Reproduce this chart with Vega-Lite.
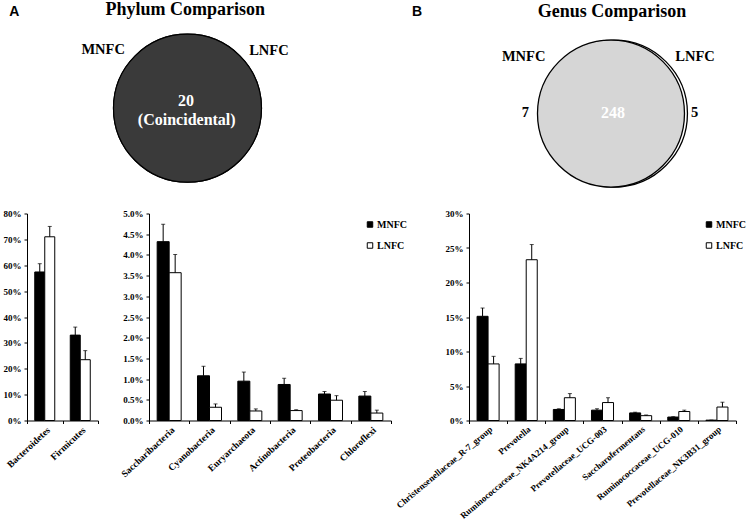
{
  "$schema": "https://vega.github.io/schema/vega-lite/v6.json",
  "padding": {"left": 3, "top": 0, "right": 0, "bottom": 0},
  "background": "white",
  "config": {
    "view": {"stroke": null},
    "axis": {"grid": false, "domainColor": "black", "tickColor": "black", "tickSize": 3, "labelColor": "black", "labelFont": "Liberation Serif", "labelFontWeight": "bold", "labelFontSize": 9, "labelOverlap": false}
  },
  "datasets": {
    "phylumMain": [
      {"taxon": "Bacteroidetes", "group": "MNFC", "value": 57.4, "upper": 60.6},
      {"taxon": "Bacteroidetes", "group": "LNFC", "value": 71.0, "upper": 75.0},
      {"taxon": "Firmicutes", "group": "MNFC", "value": 33.0, "upper": 36.1},
      {"taxon": "Firmicutes", "group": "LNFC", "value": 23.5, "upper": 27.0}
    ],
    "phylumMinor": [
      {"taxon": "Saccharibacteria", "group": "MNFC", "value": 4.32, "upper": 4.74},
      {"taxon": "Saccharibacteria", "group": "LNFC", "value": 3.57, "upper": 4.01},
      {"taxon": "Cyanobacteria", "group": "MNFC", "value": 1.08, "upper": 1.31},
      {"taxon": "Cyanobacteria", "group": "LNFC", "value": 0.32, "upper": 0.40},
      {"taxon": "Euryarchaeota", "group": "MNFC", "value": 0.95, "upper": 1.17},
      {"taxon": "Euryarchaeota", "group": "LNFC", "value": 0.23, "upper": 0.28},
      {"taxon": "Actinobacteria", "group": "MNFC", "value": 0.87, "upper": 1.02},
      {"taxon": "Actinobacteria", "group": "LNFC", "value": 0.24, "upper": 0.26},
      {"taxon": "Proteobacteria", "group": "MNFC", "value": 0.64, "upper": 0.70},
      {"taxon": "Proteobacteria", "group": "LNFC", "value": 0.49, "upper": 0.60},
      {"taxon": "Chloroflexi", "group": "MNFC", "value": 0.59, "upper": 0.70},
      {"taxon": "Chloroflexi", "group": "LNFC", "value": 0.18, "upper": 0.25}
    ],
    "genus": [
      {"taxon": "Christensenellaceae_R-7_group", "group": "MNFC", "value": 15.1, "upper": 16.3},
      {"taxon": "Christensenellaceae_R-7_group", "group": "LNFC", "value": 8.2, "upper": 9.3},
      {"taxon": "Prevotella", "group": "MNFC", "value": 8.2, "upper": 9.0},
      {"taxon": "Prevotella", "group": "LNFC", "value": 23.3, "upper": 25.5},
      {"taxon": "Ruminococcaceae_NK4A214_group", "group": "MNFC", "value": 1.6, "upper": 1.7},
      {"taxon": "Ruminococcaceae_NK4A214_group", "group": "LNFC", "value": 3.3, "upper": 3.9},
      {"taxon": "Prevotellaceae_UCG-003", "group": "MNFC", "value": 1.5, "upper": 1.7},
      {"taxon": "Prevotellaceae_UCG-003", "group": "LNFC", "value": 2.6, "upper": 3.3},
      {"taxon": "Saccharofermentans", "group": "MNFC", "value": 1.1, "upper": 1.2},
      {"taxon": "Saccharofermentans", "group": "LNFC", "value": 0.7, "upper": 0.8},
      {"taxon": "Ruminococcaceae_UCG-010", "group": "MNFC", "value": 0.5, "upper": 0.55},
      {"taxon": "Ruminococcaceae_UCG-010", "group": "LNFC", "value": 1.3, "upper": 1.5},
      {"taxon": "Prevotellaceae_NK3B31_group", "group": "MNFC", "value": 0.05, "upper": 0.06},
      {"taxon": "Prevotellaceae_NK3B31_group", "group": "LNFC", "value": 1.95, "upper": 2.65}
    ],
    "vennA_sets": [
      {"set": "LNFC", "x": 0, "y": -0.03},
      {"set": "MNFC", "x": 0, "y": -0.03}
    ],
    "vennA_text": [
      {"role": "title", "text": "Phylum Comparison", "x": -0.03, "y": 1.3},
      {"role": "panel", "text": "A", "x": -2.34, "y": 1.27},
      {"role": "set", "text": "MNFC", "x": -1.14, "y": 0.757},
      {"role": "set", "text": "LNFC", "x": 1.1, "y": 0.743},
      {"role": "inner", "text": "20", "x": -0.02, "y": 0.068},
      {"role": "inner", "text": "(Coincidental)", "x": -0.01, "y": -0.19}
    ],
    "vennB_sets": [
      {"set": "LNFC", "x": 0.02, "y": -0.035},
      {"set": "MNFC", "x": -0.02, "y": -0.035}
    ],
    "vennB_text": [
      {"role": "title", "text": "Genus Comparison", "x": -0.007, "y": 1.338},
      {"role": "panel", "text": "B", "x": -2.64, "y": 1.338},
      {"role": "set", "text": "MNFC", "x": -1.2, "y": 0.73},
      {"role": "set", "text": "LNFC", "x": 1.115, "y": 0.73},
      {"role": "outer", "text": "7", "x": -1.176, "y": -0.027},
      {"role": "outer", "text": "5", "x": 1.11, "y": -0.027},
      {"role": "inner", "text": "248", "x": 0.007, "y": -0.027}
    ]
  },
  "spacing": 9.5,
  "resolve": {"scale": {"fill": "independent", "x": "independent", "y": "independent", "xOffset": "independent"}, "legend": {"fill": "independent"}},
  "vconcat": [
    {
      "hconcat": [
        {
          "width": 346, "height": 200,
          "encoding": {
            "x": {"field": "x", "type": "quantitative", "scale": {"domain": [-2.169, 2.507], "nice": false, "zero": false}, "axis": null},
            "y": {"field": "y", "type": "quantitative", "scale": {"domain": [-1.27, 1.432], "nice": false, "zero": false}, "axis": null}
          },
          "layer": [
            {"data": {"name": "vennA_sets"}, "mark": {"type": "point", "shape": "circle", "filled": true, "size": 21904, "fill": "#3a3a3a", "stroke": "black", "strokeWidth": 1.2, "opacity": 1}},
            {"data": {"name": "vennA_text"}, "transform": [{"filter": "datum.role === 'title'"}], "mark": {"type": "text", "font": "Liberation Serif", "fontWeight": "bold", "fontSize": 18, "color": "black", "align": "center", "baseline": "middle"}, "encoding": {"text": {"field": "text"}}},
            {"data": {"name": "vennA_text"}, "transform": [{"filter": "datum.role === 'panel'"}], "mark": {"type": "text", "font": "Liberation Sans", "fontWeight": "bold", "fontSize": 14, "color": "black", "align": "center", "baseline": "middle"}, "encoding": {"text": {"field": "text"}}},
            {"data": {"name": "vennA_text"}, "transform": [{"filter": "datum.role === 'set'"}], "mark": {"type": "text", "font": "Liberation Serif", "fontWeight": "bold", "fontSize": 14.5, "color": "black", "align": "center", "baseline": "middle"}, "encoding": {"text": {"field": "text"}}},
            {"data": {"name": "vennA_text"}, "transform": [{"filter": "datum.role === 'inner'"}], "mark": {"type": "text", "font": "Liberation Serif", "fontWeight": "bold", "fontSize": 16, "color": "white", "align": "center", "baseline": "middle"}, "encoding": {"text": {"field": "text"}}}
          ]
        },
        {
          "width": 374, "height": 200,
          "encoding": {
            "x": {"field": "x", "type": "quantitative", "scale": {"domain": [-3.236, 1.818], "nice": false, "zero": false}, "axis": null},
            "y": {"field": "y", "type": "quantitative", "scale": {"domain": [-1.203, 1.5], "nice": false, "zero": false}, "axis": null}
          },
          "layer": [
            {"data": {"name": "vennB_sets"}, "mark": {"type": "point", "shape": "circle", "filled": true, "size": 21609, "stroke": "black", "strokeWidth": 1.3, "opacity": 1},
             "encoding": {"fill": {"field": "set", "type": "nominal", "scale": {"domain": ["LNFC", "MNFC"], "range": ["white", "#d6d6d6"]}, "legend": null}}},
            {"data": {"name": "vennB_text"}, "transform": [{"filter": "datum.role === 'title'"}], "mark": {"type": "text", "font": "Liberation Serif", "fontWeight": "bold", "fontSize": 18, "color": "black", "align": "center", "baseline": "middle"}, "encoding": {"text": {"field": "text"}}},
            {"data": {"name": "vennB_text"}, "transform": [{"filter": "datum.role === 'panel'"}], "mark": {"type": "text", "font": "Liberation Sans", "fontWeight": "bold", "fontSize": 14, "color": "black", "align": "center", "baseline": "middle"}, "encoding": {"text": {"field": "text"}}},
            {"data": {"name": "vennB_text"}, "transform": [{"filter": "datum.role === 'set' || datum.role === 'outer'"}], "mark": {"type": "text", "font": "Liberation Serif", "fontWeight": "bold", "fontSize": 14.5, "color": "black", "align": "center", "baseline": "middle"}, "encoding": {"text": {"field": "text"}}},
            {"data": {"name": "vennB_text"}, "transform": [{"filter": "datum.role === 'inner'"}], "mark": {"type": "text", "font": "Liberation Serif", "fontWeight": "bold", "fontSize": 16, "color": "white", "align": "center", "baseline": "middle"}, "encoding": {"text": {"field": "text"}}}
          ]
        }
      ],
      "spacing": 0,
      "bounds": "flush",
      "resolve": {"scale": {"fill": "independent", "x": "independent", "y": "independent"}, "legend": {"fill": "independent"}}
    },
    {
      "hconcat": [
        {
          "width": 71, "height": 207,
          "data": {"name": "phylumMain"},
          "encoding": {
            "x": {"field": "taxon", "type": "nominal", "sort": null, "scale": {"paddingInner": 0, "paddingOuter": 0}, "axis": {"title": null, "labelAngle": -43, "tickBand": "extent", "labelPadding": 1, "labelFontSize": 9.5}},
            "xOffset": {"field": "group", "type": "nominal", "sort": ["MNFC", "LNFC"], "scale": {"paddingInner": 0, "paddingOuter": 0.775}}
          },
          "layer": [
            {"mark": {"type": "bar", "stroke": "black", "strokeWidth": 1},
             "encoding": {
               "y": {"field": "value", "type": "quantitative", "scale": {"domain": [0, 80], "nice": false}, "axis": {"title": null, "values": [0, 10, 20, 30, 40, 50, 60, 70, 80], "labelExpr": "datum.value + '%'", "labelPadding": 3}},
               "fill": {"field": "group", "type": "nominal", "scale": {"domain": ["MNFC", "LNFC"], "range": ["black", "white"]}, "legend": null}
             }},
            {"mark": {"type": "rule", "color": "black", "strokeWidth": 1}, "encoding": {"y": {"field": "value", "type": "quantitative", "axis": {"title": null, "values": [0, 10, 20, 30, 40, 50, 60, 70, 80], "labelExpr": "datum.value + '%'", "labelPadding": 3}}, "y2": {"field": "upper"}}},
            {"mark": {"type": "tick", "color": "black", "size": 4, "thickness": 1}, "encoding": {"y": {"field": "upper", "type": "quantitative", "axis": {"title": null, "values": [0, 10, 20, 30, 40, 50, 60, 70, 80], "labelExpr": "datum.value + '%'", "labelPadding": 3}}}}
          ]
        },
        {
          "width": 269, "height": 207,
          "data": {"name": "phylumMinor"},
          "encoding": {
            "x": {"field": "taxon", "type": "nominal", "sort": null, "scale": {"paddingInner": 0, "paddingOuter": 0, "rangeMax": 242}, "axis": {"title": null, "labelAngle": -43, "tickBand": "extent", "labelPadding": 1, "labelFontSize": 9.5}},
            "xOffset": {"field": "group", "type": "nominal", "sort": ["MNFC", "LNFC"], "scale": {"paddingInner": 0, "paddingOuter": 0.68}}
          },
          "layer": [
            {"mark": {"type": "bar", "stroke": "black", "strokeWidth": 1},
             "encoding": {
               "y": {"field": "value", "type": "quantitative", "scale": {"domain": [0, 5], "nice": false}, "axis": {"title": null, "values": [0, 0.5, 1, 1.5, 2, 2.5, 3, 3.5, 4, 4.5, 5], "labelExpr": "format(datum.value, '.1f') + '%'", "labelPadding": 3}},
               "fill": {"field": "group", "type": "nominal", "scale": {"domain": ["MNFC", "LNFC"], "range": ["black", "white"]},
                 "legend": {"orient": "none", "legendX": 216, "legendY": 6, "title": null, "symbolType": "square", "symbolSize": 30, "symbolStrokeColor": "black", "symbolStrokeWidth": 1, "labelFont": "Liberation Serif", "labelFontWeight": "bold", "labelFontSize": 10, "labelColor": "black", "rowPadding": 11, "labelOffset": 2, "padding": 0}}
             }},
            {"mark": {"type": "rule", "color": "black", "strokeWidth": 1}, "encoding": {"y": {"field": "value", "type": "quantitative", "axis": {"title": null, "values": [0, 0.5, 1, 1.5, 2, 2.5, 3, 3.5, 4, 4.5, 5], "labelExpr": "format(datum.value, '.1f') + '%'", "labelPadding": 3}}, "y2": {"field": "upper"}}},
            {"mark": {"type": "tick", "color": "black", "size": 4, "thickness": 1}, "encoding": {"y": {"field": "upper", "type": "quantitative", "axis": {"title": null, "values": [0, 0.5, 1, 1.5, 2, 2.5, 3, 3.5, 4, 4.5, 5], "labelExpr": "format(datum.value, '.1f') + '%'", "labelPadding": 3}}}}
          ]
        },
        {
          "width": 267, "height": 207,
          "data": {"name": "genus"},
          "encoding": {
            "x": {"field": "taxon", "type": "nominal", "sort": null, "scale": {"paddingInner": 0, "paddingOuter": 0}, "axis": {"title": null, "labelAngle": -40, "tickBand": "extent", "labelPadding": 1, "labelFontSize": 9}},
            "xOffset": {"field": "group", "type": "nominal", "sort": ["MNFC", "LNFC"], "scale": {"paddingInner": 0, "paddingOuter": 0.73}}
          },
          "layer": [
            {"mark": {"type": "bar", "stroke": "black", "strokeWidth": 1},
             "encoding": {
               "y": {"field": "value", "type": "quantitative", "scale": {"domain": [0, 30], "nice": false}, "axis": {"title": null, "values": [0, 5, 10, 15, 20, 25, 30], "labelExpr": "datum.value + '%'", "labelPadding": 3}},
               "fill": {"field": "group", "type": "nominal", "scale": {"domain": ["MNFC", "LNFC"], "range": ["black", "white"]},
                 "legend": {"orient": "none", "legendX": 235, "legendY": 6, "title": null, "symbolType": "square", "symbolSize": 30, "symbolStrokeColor": "black", "symbolStrokeWidth": 1, "labelFont": "Liberation Serif", "labelFontWeight": "bold", "labelFontSize": 10, "labelColor": "black", "rowPadding": 11, "labelOffset": 2, "padding": 0}}
             }},
            {"mark": {"type": "rule", "color": "black", "strokeWidth": 1}, "encoding": {"y": {"field": "value", "type": "quantitative", "axis": {"title": null, "values": [0, 5, 10, 15, 20, 25, 30], "labelExpr": "datum.value + '%'", "labelPadding": 3}}, "y2": {"field": "upper"}}},
            {"mark": {"type": "tick", "color": "black", "size": 4, "thickness": 1}, "encoding": {"y": {"field": "upper", "type": "quantitative", "axis": {"title": null, "values": [0, 5, 10, 15, 20, 25, 30], "labelExpr": "datum.value + '%'", "labelPadding": 3}}}}
          ]
        }
      ],
      "spacing": 51,
      "bounds": "flush",
      "resolve": {"scale": {"fill": "independent", "x": "independent", "y": "independent", "xOffset": "independent"}, "legend": {"fill": "independent"}}
    }
  ]
}
